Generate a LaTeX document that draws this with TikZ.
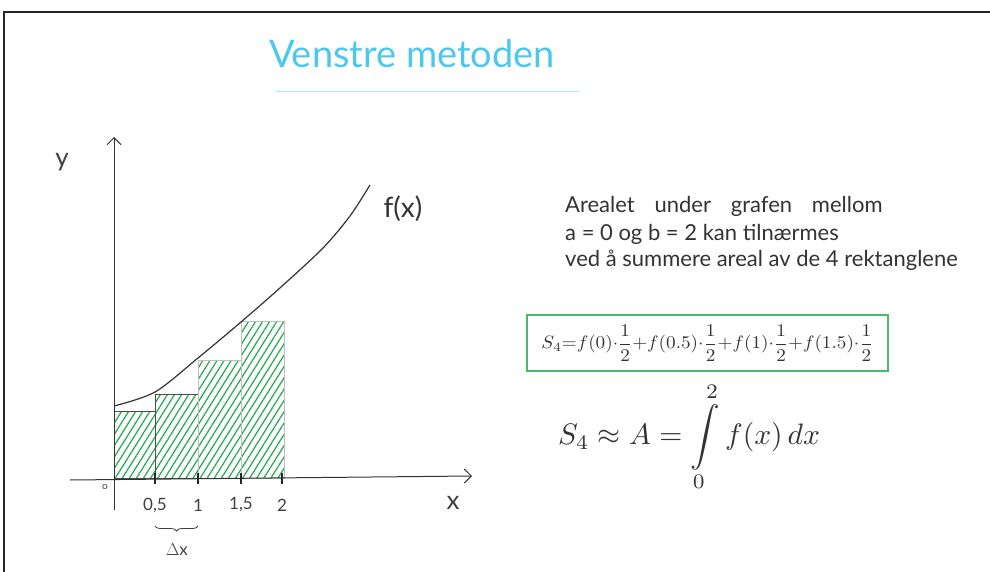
\documentclass[tikz,border=0pt]{standalone}
\usepackage{fontspec}
\setmainfont{Lato}
\usetikzlibrary{arrows.meta, patterns.meta, decorations.pathreplacing}

\definecolor{titleblue}{HTML}{4CC8F0}
\definecolor{lineblue}{HTML}{B5EAF9}
\definecolor{hatchgreen}{HTML}{2EAA58}
\definecolor{boxgreen}{HTML}{4CB86C}

\begin{document}
\begin{tikzpicture}[
        x=1pt, y=-1pt,
        axis/.style={-{Straight Barb[length=7pt, width=14pt]}, line width=1pt, draw=black!80},
        curve/.style={line width=1.2pt, draw=black!80},
        bar/.style={line width=0.7pt, pattern={Lines[angle=58, distance=6pt, line width=1.3pt]}, pattern color=hatchgreen},
        tickmark/.style={line width=1.6pt, draw=black!85},
        ticklabel/.style={font=\fontsize{17}{19}\selectfont, text=black!75},
        axislabel/.style={font=\fontsize{26}{28}\selectfont, text=black!75},
        hand/.style={font=\fontsize{22}{24}\selectfont, text=black!80, anchor=west, inner sep=0pt}
    ]
        \useasboundingbox (0,0) rectangle (990,572);
        % frame
        \draw[line width=1.6pt, black!85] (4,572) -- (4,12) -- (990,12);

        % title
        \node[text=titleblue, font=\fontsize{38}{42}\selectfont] (title) at (412,54) {Venstre metoden};
        \draw[lineblue, line width=1pt] (275,92) -- (580,92);

        % rectangles
        \draw[bar, draw=black!70] (114,478) rectangle (155,411);
        \draw[bar, draw=black!70] (155,478) rectangle (198,394);
        \draw[bar, draw=black!25] (198,478) rectangle (241,360);
        \draw[bar, draw=black!25] (241,478) rectangle (284,321);

        % axes
        \coordinate (xstart) at (70,480);
        \coordinate (xend) at (472,476);
        \coordinate (ystart) at (114,510);
        \coordinate (yend) at (114,137);
        \draw[axis] (xstart) -- (xend);
        \draw[axis] (ystart) -- (yend);
        \node[axislabel] (ylab) at (62,162) {y};
        \node[axislabel] (xlab) at (453,503) {x};
        \node[font=\fontsize{10}{11}\selectfont, text=black!75] (zero) at (105,487) {o};

        % ticks
        \foreach \xx/\lab in {155/{0,5}, 198/1, 241/{1,5}, 282/2} {
            \draw[tickmark] (\xx,473) -- (\xx,484);
            \node[ticklabel] at (\xx,505) {\lab};
        }

        % graph
        \draw[curve] plot[smooth, tension=0.5] coordinates {(114,406) (155,392) (198,358) (241,322) (281,287) (323,248) (350,216) (370,185)};
        \node[font=\fontsize{28}{30}\selectfont, text=black!80] (flab) at (403,209) {f(x)};

        % delta x
        \coordinate (brl) at (155,526);
        \coordinate (brr) at (198,526);
        \draw[black!75, line width=0.8pt, decorate, decoration={brace, mirror, amplitude=5pt}] (brl) -- (brr);
        \node[ticklabel] (dx) at (177,550) {$\Delta$x};

        % explanation
        \node[hand] (line1) at (565,206) {\spaceskip=0.9em Arealet under grafen mellom};
        \node[hand] (line2) at (565,234) {a = 0 og b = 2 kan tilnærmes};
        \node[hand] (line3) at (565,260) {ved å summere areal av de 4 rektanglene};

        \node[draw=boxgreen, line width=1.2pt, minimum width=361pt, minimum height=56pt, inner sep=0pt, text=black!80] (sumbox) at (707.5,343)
            {\resizebox*{332pt}{36pt}{$\displaystyle S_4 {=} f(0){\cdot}\frac{1}{2} {+} f(0.5){\cdot}\frac{1}{2} {+} f(1){\cdot}\frac{1}{2} {+} f(1.5){\cdot}\frac{1}{2}$}};

        \node[text=black!80] (approx) at (689,437)
            {\resizebox{262pt}{!}{$\displaystyle S_4 \approx A = \int\limits_0^2 f(x)\,dx$}};
\end{tikzpicture}
\end{document}
